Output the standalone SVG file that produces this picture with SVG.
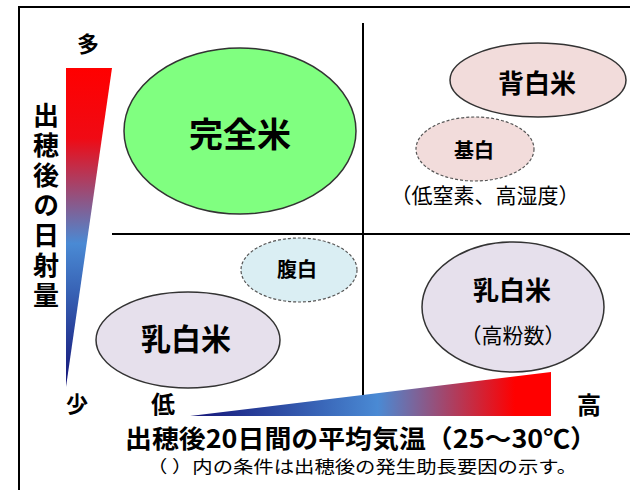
<svg xmlns="http://www.w3.org/2000/svg" width="630" height="490" viewBox="0 0 630 490">
<defs>
<linearGradient id="gv" x1="0" y1="0" x2="0" y2="1">
<stop offset="0" stop-color="#ff0000"/>
<stop offset="0.22" stop-color="#f00a14"/>
<stop offset="0.55" stop-color="#4a8ad4"/>
<stop offset="1" stop-color="#141478"/>
</linearGradient>
<linearGradient id="gh" x1="0" y1="0" x2="1" y2="0">
<stop offset="0" stop-color="#141478"/>
<stop offset="0.52" stop-color="#4a8ad4"/>
<stop offset="0.9" stop-color="#ff0000"/>
<stop offset="1" stop-color="#ff0000"/>
</linearGradient>
<style>
.t{font-family:"Noto Sans CJK JP","Noto Sans",sans-serif;fill:#000;text-anchor:middle}
.b{font-weight:bold}
.n{font-weight:normal}
.e{stroke:#333;stroke-width:1.5}
.d{stroke:#555;stroke-width:1.2;stroke-dasharray:3 2}
.ln{stroke:#000;stroke-width:2;fill:none}
.v{font-family:"Noto Sans CJK JP","Noto Sans",sans-serif;font-weight:bold;fill:#000;writing-mode:vertical-rl;letter-spacing:4px}
</style>
</defs>
<rect width="630" height="490" fill="#fff"/>
<g id="frame">
<path class="ln" d="M19,490 V7 H630"/>
</g>
<g id="connectors">
<line class="ln" x1="363" y1="23" x2="363" y2="396"/>
<line class="ln" x1="112" y1="234" x2="630" y2="234"/>
</g>
<g id="axis-y">
<polygon points="66,68 112,68 66,387" fill="url(#gv)"/>
<text class="t b" x="88" y="52" font-size="22">多</text>
<text class="t b" x="77" y="412" font-size="22">少</text>
<text class="v" x="46" y="102" font-size="26">出穂後の日射量</text>
</g>
<g id="axis-x">
<polygon points="190,416 551,372 551,416" fill="url(#gh)"/>
<text class="t b" x="163" y="413" font-size="24">低</text>
<text class="t b" x="589" y="414" font-size="24">高</text>
<text class="t b" x="361" y="448" font-size="25" textLength="472" lengthAdjust="spacingAndGlyphs">出穂後20日間の平均気温（25～30℃）</text>
<text class="t n" x="362" y="473" font-size="17" textLength="430" lengthAdjust="spacingAndGlyphs">（ ）内の条件は出穂後の発生助長要因の示す。</text>
</g>
<g id="kanzenmai">
<ellipse class="e" cx="240" cy="131" rx="116" ry="83" fill="#80ff80"/>
<text class="t b" x="240" y="147" font-size="34">完全米</text>
</g>
<g id="sejiromai">
<ellipse class="e" cx="538" cy="80" rx="88" ry="37" fill="#f2dcdb"/>
<text class="t b" x="537" y="93" font-size="26">背白米</text>
</g>
<g id="motojiro">
<ellipse class="d" cx="475" cy="149" rx="59" ry="32" fill="#f2dcdb"/>
<text class="t b" x="474" y="158" font-size="20">基白</text>
<text class="t n" x="485" y="203" font-size="21">（低窒素、高湿度）</text>
</g>
<g id="harajiro">
<ellipse class="d" cx="299" cy="270" rx="58" ry="32" fill="#daeef3"/>
<text class="t b" x="297" y="277" font-size="20">腹白</text>
</g>
<g id="nyuhakumai-left">
<ellipse class="e" cx="188" cy="340" rx="92" ry="48" fill="#e6e0ec"/>
<text class="t b" x="186" y="350" font-size="30">乳白米</text>
</g>
<g id="nyuhakumai-right">
<ellipse class="e" cx="513" cy="307" rx="91" ry="65" fill="#e6e0ec"/>
<text class="t b" x="512" y="300" font-size="26">乳白米</text>
<text class="t n" x="513" y="343" font-size="21">（高粉数）</text>
</g>
</svg>
